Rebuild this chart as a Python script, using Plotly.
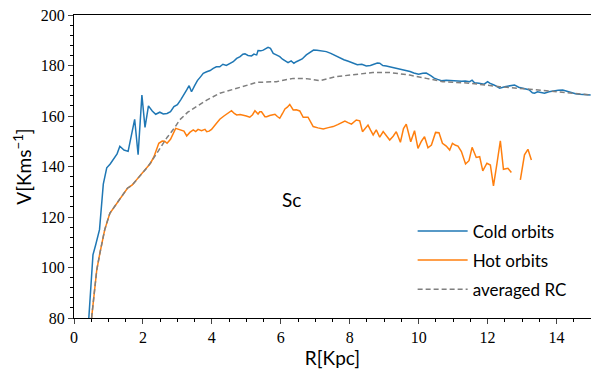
import plotly.graph_objects as go

# Cold orbits
cold_r = [0.43, 0.55, 0.63, 0.74, 0.85, 0.95, 1.05, 1.14, 1.25, 1.33, 1.45, 1.57, 1.66, 1.76, 1.86, 1.97, 2.06, 2.16,
          2.27, 2.37, 2.49, 2.59, 2.70, 2.80, 2.90, 3.00, 3.10, 3.19, 3.27, 3.34, 3.41, 3.50, 3.58, 3.67, 3.75, 3.85,
          3.95, 4.04, 4.13, 4.23, 4.32, 4.42, 4.52, 4.62, 4.72, 4.82, 4.90, 4.96, 5.05, 5.15, 5.22, 5.30, 5.34, 5.42,
          5.49, 5.56, 5.63, 5.70, 5.78, 5.87, 5.97, 6.05, 6.13, 6.21, 6.30, 6.38, 6.45, 6.55, 6.62, 6.74, 6.85, 6.95,
          7.05, 7.15, 7.25, 7.32, 7.45, 7.58, 7.71, 7.83, 7.96, 8.10, 8.22, 8.35, 8.48, 8.60, 8.70, 8.80, 8.87, 8.96,
          9.06, 9.16, 9.26, 9.40, 9.52, 9.64, 9.75, 9.86, 10.00, 10.12, 10.22, 10.35, 10.45, 10.55, 10.66, 10.80,
          10.95, 11.10, 11.25, 11.35, 11.48, 11.55, 11.62, 11.75, 11.90, 12.00, 12.06, 12.20, 12.35, 12.50, 12.65,
          12.78, 12.90, 13.05, 13.20, 13.30, 13.36, 13.45, 13.55, 13.65, 13.78, 13.90, 14.05, 14.18, 14.30, 14.45,
          14.55, 14.67, 14.80, 14.99]
cold_v = [80, 105, 109, 115, 133, 139.5, 141, 142.6, 145, 148, 146.5, 146, 152, 158.7, 144.7, 168.3, 155.5, 164,
          162, 160.7, 161.5, 160.8, 161, 161.7, 163.7, 164.5, 166.5, 168.3, 170.3, 172, 169.6, 172, 174, 175.5, 176.9,
          177.5, 178, 178.9, 179.5, 179.5, 180.5, 180, 180.9, 181.5, 182.8, 183.5, 184.5, 184.6, 184, 183.8, 184.5,
          184.2, 185.9, 185.8, 186.1, 186.5, 187.2, 186.8, 184.8, 184.2, 183.5, 182.5, 181.8, 181.1, 181.8, 180.9,
          181.5, 182.2, 182.6, 184.2, 185.3, 186.1, 186, 185.8, 185.7, 185.5, 184.8, 183.9, 183.2, 182.3, 181.7,
          180.9, 180.3, 180.5, 179.8, 180, 180.4, 181, 180.9, 180, 179.8, 179.5, 179, 178.5, 178.2, 177.8, 177.6,
          177, 176.5, 176.9, 177, 176, 175, 174.5, 174, 174.2, 174, 174.1, 173.8, 173.9, 173.6, 174.2, 173.2, 173,
          172.6, 173.6, 173, 172.2, 171, 171.6, 172, 172.3, 171.4, 171, 170.4, 169.2, 169, 169.6, 169.2, 169, 169.6,
          170, 170.2, 170.3, 169.8, 169.2, 168.8, 168.6, 168.6, 168.3]

# Hot orbits (None = gap)
hot_r = [0.51, 0.60, 0.66, 0.75, 0.89, 1.04, 1.21, 1.35, 1.45, 1.55, 1.62, 1.69, 1.80, 1.93, 2.03, 2.13, 2.22, 2.32,
         2.46, 2.56, 2.63, 2.70, 2.80, 2.95, 3.05, 3.12, 3.19, 3.27, 3.36, 3.46, 3.53, 3.60, 3.70, 3.80, 3.85, 3.92,
         3.99, 4.10, 4.23, 4.35, 4.47, 4.57, 4.65, 4.72, 4.82, 4.91, 5.00, 5.10, 5.18, 5.25, 5.34, 5.39, 5.44, 5.54,
         5.59, 5.68, 5.78, 5.83, 5.90, 5.97, 6.05, 6.12, 6.19, 6.26, 6.36, 6.45, 6.55, 6.65, 6.79, 6.94, 7.08, 7.23,
         7.38, 7.52, 7.65, 7.78, 7.86, 7.95, 8.05, 8.19, 8.29, 8.37, 8.45, 8.53, 8.60, 8.68, 8.77, 8.87, 8.97, 9.06,
         9.16, 9.26, 9.35, 9.47, 9.56, 9.64, 9.70, 9.77, 9.88, 9.98, 10.08, 10.17, 10.27, 10.37, 10.49, 10.59, 10.69,
         10.80, 10.90, 10.98, 11.07, 11.14, 11.24, 11.36, 11.46, 11.55, 11.67, 11.77, 11.86, 11.98, 12.08, 12.17,
         12.27, 12.37, 12.46, 12.59, 12.69, 12.82, 12.95, 13.07, 13.17, 13.27]
hot_v = [80, 92, 99, 105.6, 114.9, 121.5, 124.8, 127.4, 129.5, 131.4, 132, 132.7, 134.5, 136.6, 138, 139.7, 141.3,
         143.9, 149.2, 150.1, 150, 149.2, 150.8, 155.1, 154.6, 154.5, 154, 152.1, 153.5, 154.5, 153.8, 154.7, 154.2,
         154.7, 153.8, 154, 154.7, 156.5, 158.7, 160, 161, 162.1, 161, 160.4, 160.6, 160.4, 160, 159.5, 160.5, 162.1,
         160.8, 161.7, 161.7, 159.7, 159.7, 160.2, 160.4, 160.7, 159.8, 159.1, 161, 162.8, 163.5, 164.6, 162.4, 162.5,
         162, 159.5, 159.5, 155.8, 155.3, 154.9, 155.4, 155.8, 156.6, 157.5, 158, 157.4, 156.8, 158.4, 158.1, 153.8,
         155, 156.4, 154.5, 152.5, 154.5, 151.6, 153.8, 152, 150.5, 152, 153.8, 149.6, 155, 156.8, 153, 149.8, 154.2,
         147.2, 150, 151.8, 147.4, 148.5, 153.5, 153.4, 149.2, 148.1, 146.5, 149.2, 148.4, 148.1, 145.9, 141, 142.3,
         147.6, 143.6, 143.9, 138.3, 141.3, 140.6, 132.3, 141, 150.2, 138.9, 139.3, 137.6, None, 134.7, 144.6, 146.8,
         142.6]

# Averaged rotation curve
avg_r = [0.51, 0.60, 0.66, 0.75, 0.89, 1.04, 1.21, 1.35, 1.55, 1.69, 1.93, 2.13, 2.32, 2.51, 2.70, 2.90, 3.07, 3.30,
         3.51, 3.85, 4.23, 4.62, 5.00, 5.30, 5.87, 6.17, 6.36, 6.74, 7.13, 7.61, 8.29, 8.67, 9.16, 9.74, 10.22,
         10.70, 11.48, 12.35, 13.22, 14.09, 14.99]
avg_v = [80, 92, 99, 105.6, 114.9, 121.5, 124.8, 127.4, 131.4, 132.7, 136.6, 139.7, 143.5, 147.5, 151.5, 155, 158.5,
         161.5, 163.4, 166.3, 169, 170.6, 172.3, 173.3, 173.6, 174.5, 174.9, 174.8, 174, 175.6, 176.6, 177.2, 177.2,
         176.2, 174.9, 173.6, 173, 171.6, 170.6, 169.6, 168.3]

x_ticks = [0, 2, 4, 6, 8, 10, 12, 14]
y_ticks = [80, 100, 120, 140, 160, 180, 200]

SANS = "Lato, DejaVu Sans, sans-serif"
SERIF = "Liberation Serif, Times New Roman, serif"

fig = go.Figure()
fig.add_trace(go.Scatter(x=cold_r, y=cold_v, mode="lines", name="Cold orbits", legendgroup="a",
                         line=dict(color="#1f77b4", width=1.5)))
fig.add_trace(go.Scatter(x=hot_r, y=hot_v, mode="lines", name="Hot orbits", legendgroup="b",
                         line=dict(color="#ff7f0e", width=1.5), connectgaps=False))
fig.add_trace(go.Scatter(x=avg_r, y=avg_v, mode="lines", name="averaged RC", legendgroup="c",
                         line=dict(color="#7f7f7f", width=1.5, dash="5px,3px")))

fig.add_annotation(x=6.3, y=127, xref="x", yref="y", text="Sc", showarrow=False,
                   font=dict(family=SANS, size=19, color="black"))

fig.update_layout(
    width=591, height=374,
    margin=dict(l=74, r=0, t=15, b=56),
    paper_bgcolor="white", plot_bgcolor="white",
    showlegend=True,
    legend=dict(x=0.655, y=0.345, xanchor="left", yanchor="top",
                font=dict(family=SANS, size=17, color="black"),
                bgcolor="rgba(0,0,0,0)", tracegroupgap=4, itemwidth=50),
    xaxis=dict(range=[0, 15], tickvals=x_ticks, ticks="outside", ticklen=5, tickwidth=1.2,
               showline=True, linecolor="black", linewidth=1.2, mirror=True, showgrid=False, zeroline=False,
               tickfont=dict(family=SERIF, size=16, color="black"),
               minor=dict(dtick=0.5, ticks="outside", ticklen=3, tickcolor="black", showgrid=False),
               title=dict(text="R[Kpc]", font=dict(family=SANS, size=19, color="black"), standoff=6)),
    yaxis=dict(range=[80, 200], tickvals=y_ticks, ticks="outside", ticklen=5, tickwidth=1.2,
               showline=True, linecolor="black", linewidth=1.2, showgrid=False, zeroline=False,
               tickfont=dict(family=SERIF, size=16, color="black"),
               minor=dict(dtick=4, ticks="outside", ticklen=3, tickcolor="black", showgrid=False),
               title=dict(text="V[Kms<sup>−1</sup>]", font=dict(family=SANS, size=19, color="black"), standoff=4)),
)

fig.write_html("out.html")
